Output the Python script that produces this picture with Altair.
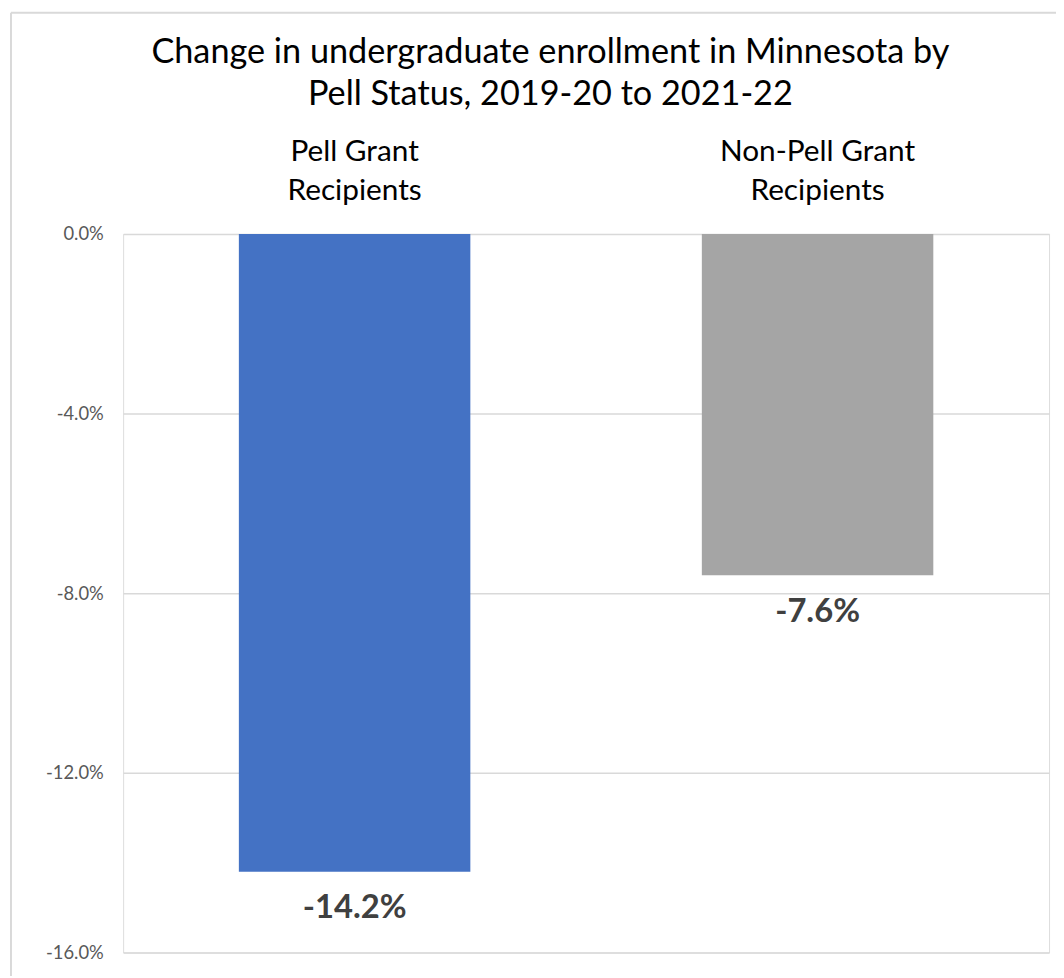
import altair as alt
import pandas as pd

# ---- data ----
categories = ["Pell Grant Recipients", "Non-Pell Grant Recipients"]
values = [-0.142, -0.076]
colors = ["#4472C4", "#A5A5A5"]
y_ticks = [0, -0.04, -0.08, -0.12, -0.16]
title_lines = ["Change in undergraduate enrollment in Minnesota by",
               "Pell Status, 2019-20 to 2021-22"]

df = pd.DataFrame({"category": categories, "value": values, "color": colors})
df["label"] = [("-" if v < 0 else "") + f"{abs(v) * 100:.1f}%" for v in values]

FONT = "Lato"

x_enc = alt.X(
    "category:N",
    sort=categories,
    scale=alt.Scale(paddingInner=0.5, paddingOuter=0.25),
    axis=alt.Axis(
        orient="top", title=None, labelAngle=0, ticks=False, domain=False,
        labelFont=FONT, labelFontSize=30, labelColor="#000000",
        labelLineHeight=39, labelPadding=68, labelLimit=500,
        labelExpr="[replace(datum.label, ' Recipients', ''), 'Recipients']",
    ),
)
y_enc = alt.Y(
    "value:Q",
    scale=alt.Scale(domain=[-0.16, 0], nice=False),
    axis=alt.Axis(
        title=None, values=y_ticks, domain=False, ticks=False,
        grid=True, gridColor="#D9D9D9", gridWidth=1.5,
        labelFont=FONT, labelFontSize=18.5, labelColor="#595959", labelPadding=20,
        labelExpr="(datum.value < 0 ? '-' : '') + format(abs(datum.value), '.1%')",
    ),
)

base = alt.Chart(df)
bars = base.mark_bar().encode(
    x=x_enc, y=y_enc,
    color=alt.Color("color:N", scale=None),
)
texts = base.mark_text(
    baseline="middle", dy=37, fontSize=33, fontWeight="bold",
    color="#404040", font=FONT,
).encode(x=alt.X("category:N", sort=categories), y="value:Q", text="label:N")

frame_df = pd.DataFrame({"k": [0]})
left_border = alt.Chart(frame_df).mark_rule(color="#D9D9D9", strokeWidth=2).encode(
    x=alt.value(-113), y=alt.value(-223), y2=alt.value(760))
top_border = alt.Chart(frame_df).mark_rule(color="#D9D9D9", strokeWidth=2).encode(
    x=alt.value(-113), x2=alt.value(945), y=alt.value(-223))

chart = alt.layer(bars, texts, left_border, top_border).properties(
    width=933,
    height=724,
    autosize=alt.AutoSizeParams(type="none"),
    padding={"left": 116, "top": 224, "right": 7, "bottom": 20},
    title=alt.TitleParams(
        title_lines, font=FONT, fontSize=34.5, fontWeight="normal", color="#000000",
        anchor="middle", lineHeight=43, offset=-102, dx=-36,
    ),
).configure_view(strokeWidth=0).configure(background="white")

chart.save("out.html", embed_options={"renderer": "svg", "actions": False})
